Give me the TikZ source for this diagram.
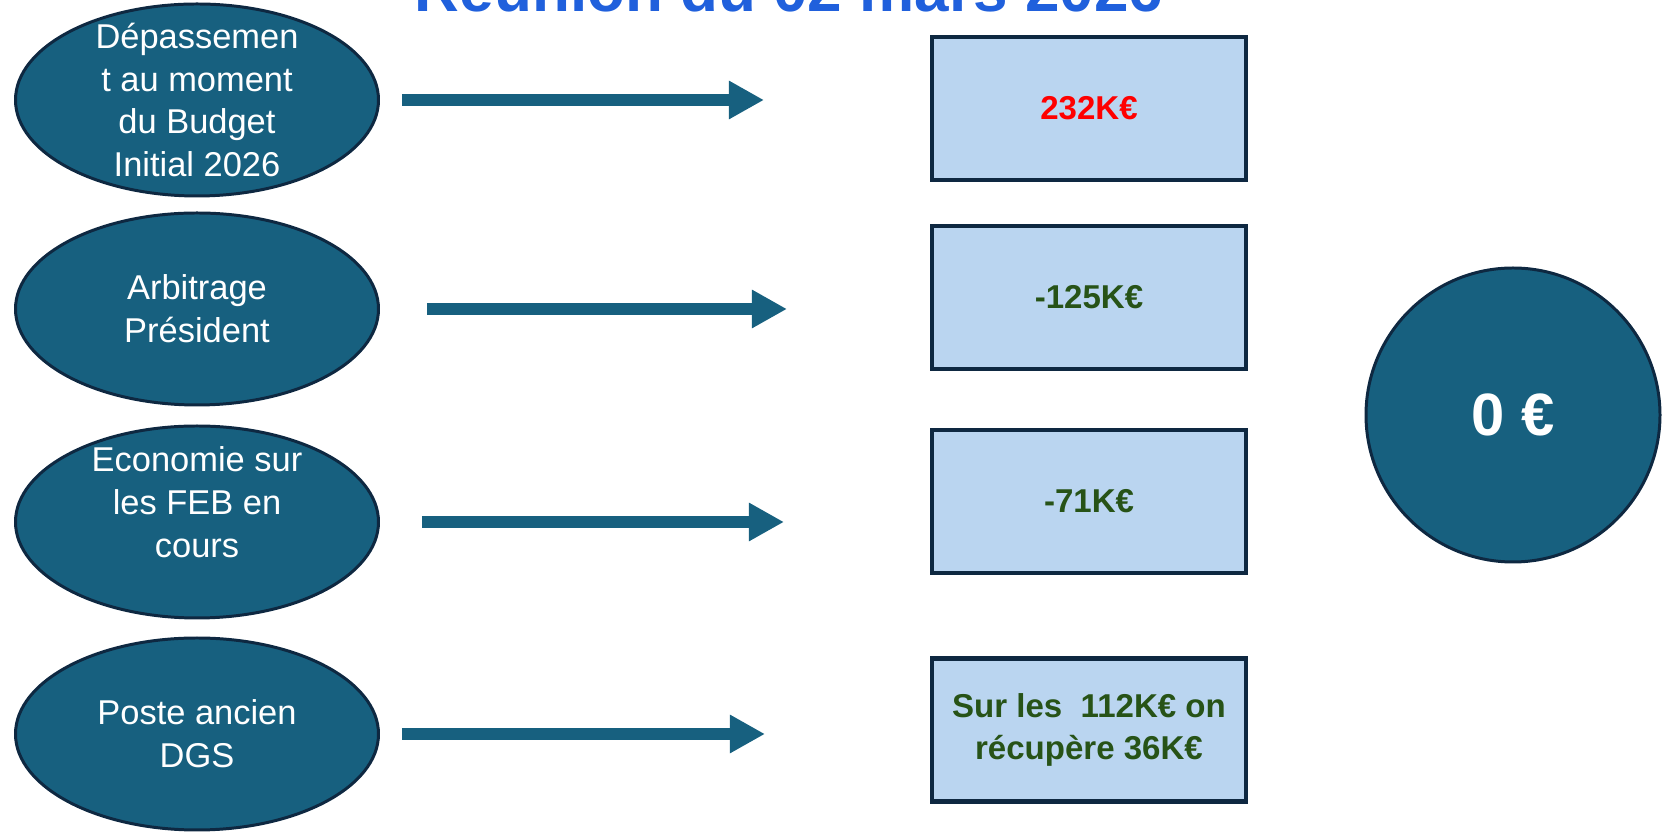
\documentclass[tikz,border=0pt]{standalone}
\usepackage{fontspec}
\setmainfont{Liberation Sans}
\usetikzlibrary{positioning, arrows.meta, shapes.geometric}

\definecolor{ovalblue}{HTML}{17607F}
\definecolor{edgenavy}{HTML}{0E2841}
\definecolor{boxblue}{HTML}{BAD5F0}
\definecolor{figgreen}{HTML}{275317}
\definecolor{titleblue}{HTML}{2060DC}

\begin{document}
\begin{tikzpicture}[
  oval/.style={ellipse, draw=edgenavy, line width=1.7pt, fill=ovalblue, minimum width=7.26cm, minimum height=3.84cm, inner sep=0pt},
  ovaltext/.style={text=white, align=center, font=\fontsize{19.6}{24.4}\selectfont},
  amount/.style={rectangle, draw=edgenavy, line width=2.3pt, fill=boxblue, minimum width=6.28cm, minimum height=2.86cm, align=center, text=figgreen, font=\bfseries\fontsize{18.8}{23.9}\selectfont},
  total/.style={circle, draw=edgenavy, line width=1.7pt, fill=ovalblue, minimum size=5.88cm, text=white, font=\bfseries\fontsize{34}{40}\selectfont},
  arrow/.style={-{Triangle[length=0.7cm, width=0.72cm]}, line width=0.24cm, draw=ovalblue}
]
\useasboundingbox (0,0) rectangle (33.36,16.66);

% Title (cut by the top edge)
\node[anchor=base, text=titleblue, font=\bfseries\fontsize{35.3}{42}\selectfont] (title) at (15.78,16.42) {Réunion du 02 mars 2026};

% Left column
\node[oval, label={[ovaltext]center:Dépassemen\\t au moment\\du Budget\\Initial 2026}] (depassement) at (3.94,14.66) {};
\node[oval, label={[ovaltext]center:Arbitrage\\Président}] (arbitrage) at (3.94,10.48) {};
\node[oval, label={[ovaltext, yshift=0.4cm]center:Economie sur\\les FEB en\\cours}] (economie) at (3.94,6.22) {};
\node[oval, label={[ovaltext]center:Poste ancien\\DGS}] (poste) at (3.94,1.98) {};

% Amounts
\node[amount, text=red] (montant1) at (21.78,14.49) {232K€};
\node[amount] (montant2) at (21.78,10.71) {-125K€};
\node[amount] (montant3) at (21.78,6.63) {-71K€};
\node[amount] (montant4) at (21.78,2.06) {Sur les \ 112K€ on\\récupère 36K€};

% Result
\node[total] (solde) at (30.26,8.36) {0 €};

% Arrows
\draw[arrow, shorten <=0.44cm, shorten >=3.32cm] (depassement.east) -- (depassement.east -| montant1.west);
\draw[arrow, shorten <=0.94cm, shorten >=2.86cm] (arbitrage.east) -- (arbitrage.east -| montant2.west);
\draw[arrow, shorten <=0.84cm, shorten >=2.92cm] (economie.east) -- (economie.east -| montant3.west);
\draw[arrow, shorten <=0.44cm, shorten >=3.30cm] (poste.east) -- (poste.east -| montant4.west);

\end{tikzpicture}
\end{document}
